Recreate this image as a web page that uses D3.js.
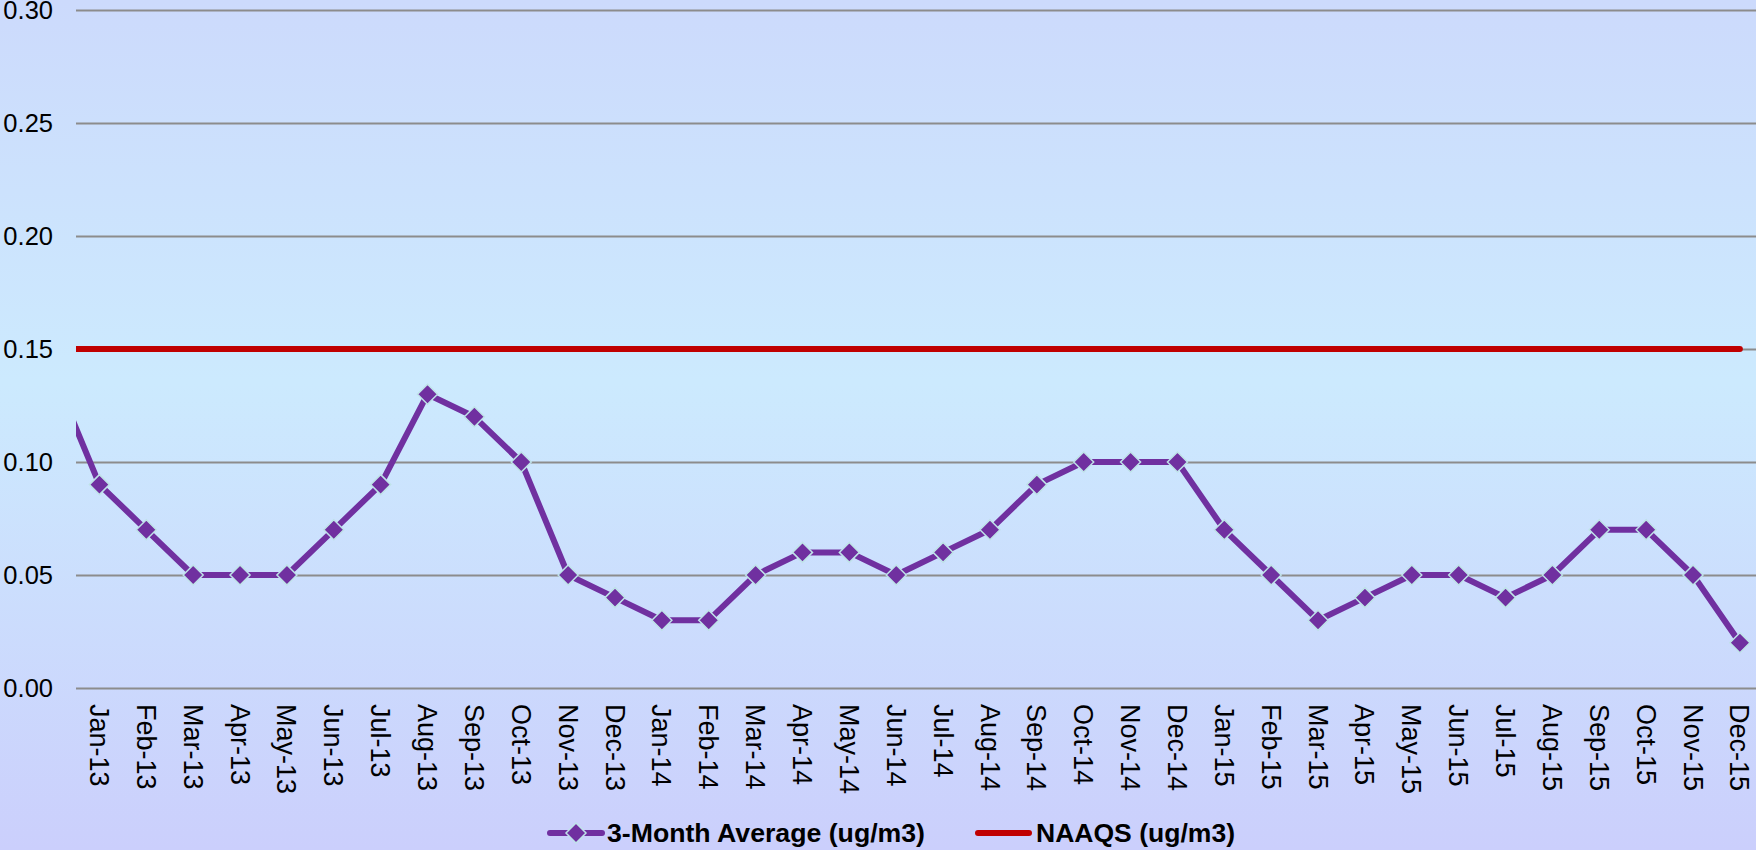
<!DOCTYPE html>
<html>
<head>
<meta charset="utf-8">
<script src="https://cdn.jsdelivr.net/npm/d3@7"></script>
<style>
  html, body { margin: 0; padding: 0; overflow: hidden; }
  svg { display: block; }
</style>
</head>
<body>
<script>
/* months on the x axis, plus the month before (drawn clipped at the left edge) */
var priorMonth = "Dec-12";
var months = ["Jan-13", "Feb-13", "Mar-13", "Apr-13", "May-13", "Jun-13", "Jul-13", "Aug-13", "Sep-13", "Oct-13", "Nov-13", "Dec-13",
              "Jan-14", "Feb-14", "Mar-14", "Apr-14", "May-14", "Jun-14", "Jul-14", "Aug-14", "Sep-14", "Oct-14", "Nov-14", "Dec-14",
              "Jan-15", "Feb-15", "Mar-15", "Apr-15", "May-15", "Jun-15", "Jul-15", "Aug-15", "Sep-15", "Oct-15", "Nov-15", "Dec-15"];

/* 3-month average (ug/m3) */
var priorAvg = 0.14;
var avgValues = [0.09, 0.07, 0.05, 0.05, 0.05, 0.07, 0.09, 0.13, 0.12, 0.10, 0.05, 0.04,
                 0.03, 0.03, 0.05, 0.06, 0.06, 0.05, 0.06, 0.07, 0.09, 0.10, 0.10, 0.10,
                 0.07, 0.05, 0.03, 0.04, 0.05, 0.05, 0.04, 0.05, 0.07, 0.07, 0.05, 0.02];

/* NAAQS standard (ug/m3) */
var naaqsValue = 0.15;

var yTicks = [0, 0.05, 0.10, 0.15, 0.20, 0.25, 0.30];
var seriesNames = ["3-Month Average (ug/m3)", "NAAQS (ug/m3)"];

/* Layout */
var width = 1756,
    height = 850;
var plotLeft = 76,
    plotTop = 10,
    plotBottom = 688,
    step = 46.87;

var purple = "#7030a0",
    red = "#c00000",
    gridColor = "#8c8c8c",
    font = "'Liberation Sans', Arial, sans-serif";

var svg = d3.select("body").append("svg")
    .attr("width", width)
    .attr("height", height);

/* background gradient */
var defs = svg.append("defs");
var grad = defs.append("linearGradient")
    .attr("id", "bg")
    .attr("x1", 0).attr("y1", 0).attr("x2", 0).attr("y2", 1);
grad.append("stop").attr("offset", "0%").attr("stop-color", "#ccdafc");
grad.append("stop").attr("offset", "45%").attr("stop-color", "#cceafe");
grad.append("stop").attr("offset", "100%").attr("stop-color", "#cbcffc");

svg.append("rect")
    .attr("width", width)
    .attr("height", height)
    .attr("fill", "url(#bg)");

defs.append("clipPath")
    .attr("id", "plotClip")
    .append("rect")
    .attr("x", plotLeft)
    .attr("y", 0)
    .attr("width", width - plotLeft)
    .attr("height", height);

var xScale = d3.scaleBand()
    .domain([priorMonth].concat(months))
    .range([plotLeft - step, plotLeft + months.length * step]);

var yScale = d3.scaleLinear()
    .domain([0, 0.3])
    .range([plotBottom, plotTop]);

function xc(m) { return xScale(m) + xScale.bandwidth() / 2; }

/* gridlines + y labels */
var yAxis = d3.axisLeft(yScale)
    .tickValues(yTicks)
    .tickFormat(d3.format(".2f"))
    .tickSize(-(width - plotLeft))
    .tickPadding(23);

var gy = svg.append("g")
    .attr("transform", "translate(" + plotLeft + ",0)")
    .call(yAxis);
gy.select(".domain").remove();
gy.selectAll(".tick line")
    .attr("stroke", gridColor)
    .attr("stroke-width", 2);
gy.selectAll(".tick text")
    .attr("font-family", font)
    .attr("font-size", 25.5)
    .attr("fill", "#000");

/* x labels */
var xAxis = d3.axisBottom(xScale)
    .tickValues(months)
    .tickSize(0);

var gx = svg.append("g")
    .attr("transform", "translate(0," + plotBottom + ")")
    .call(xAxis);
gx.select(".domain").remove();
gx.selectAll(".tick text")
    .attr("font-family", font)
    .attr("font-size", 27)
    .attr("fill", "#000")
    .attr("text-anchor", "start")
    .attr("transform", "rotate(90)")
    .attr("x", 16)
    .attr("y", 0)
    .attr("dy", "0.35em");

/* series */
var plot = svg.append("g").attr("clip-path", "url(#plotClip)");

var avgData = [{ m: priorMonth, v: priorAvg }].concat(months.map(function(m, i) {
    return { m: m, v: avgValues[i] };
}));
var naaqsData = [priorMonth].concat(months).map(function(m) {
    return { m: m, v: naaqsValue };
});

var line = d3.line()
    .x(function(d) { return xc(d.m); })
    .y(function(d) { return yScale(d.v); });

plot.append("path")
    .datum(naaqsData)
    .attr("d", line)
    .attr("fill", "none")
    .attr("stroke", red)
    .attr("stroke-width", 6)
    .attr("stroke-linecap", "round");

plot.append("path")
    .datum(avgData)
    .attr("d", line)
    .attr("fill", "none")
    .attr("stroke", purple)
    .attr("stroke-width", 6)
    .attr("stroke-linejoin", "round");

var diamond = "M0,-10L10,0L0,10L-10,0Z";

plot.selectAll(".marker")
    .data(avgData.slice(1))
    .enter()
    .append("path")
    .attr("class", "marker")
    .attr("d", diamond)
    .attr("transform", function(d) { return "translate(" + xc(d.m) + "," + yScale(d.v) + ")"; })
    .attr("fill", purple)
    .attr("stroke", "#bfe3e8")
    .attr("stroke-width", 1.5);

/* legend */
var legendY = 833;
var lg = svg.append("g");

lg.append("line")
    .attr("x1", 550).attr("x2", 602)
    .attr("y1", legendY).attr("y2", legendY)
    .attr("stroke", purple).attr("stroke-width", 6)
    .attr("stroke-linecap", "round");
lg.append("path")
    .attr("d", "M0,-10L10,0L0,10L-10,0Z")
    .attr("transform", "translate(576," + legendY + ")")
    .attr("fill", purple)
    .attr("stroke", "#bfe3e8")
    .attr("stroke-width", 1.5);
lg.append("text")
    .attr("x", 607).attr("y", legendY)
    .attr("dy", "0.35em")
    .attr("font-family", font)
    .attr("font-weight", "bold")
    .attr("font-size", 25.5)
    .attr("textLength", 318)
    .attr("lengthAdjust", "spacingAndGlyphs")
    .attr("fill", "#000")
    .text(seriesNames[0]);

lg.append("line")
    .attr("x1", 978).attr("x2", 1029)
    .attr("y1", legendY).attr("y2", legendY)
    .attr("stroke", red).attr("stroke-width", 6)
    .attr("stroke-linecap", "round");
lg.append("text")
    .attr("x", 1036).attr("y", legendY)
    .attr("dy", "0.35em")
    .attr("font-family", font)
    .attr("font-weight", "bold")
    .attr("font-size", 25.5)
    .attr("textLength", 199)
    .attr("lengthAdjust", "spacingAndGlyphs")
    .attr("fill", "#000")
    .text(seriesNames[1]);
</script>
</body>
</html>
